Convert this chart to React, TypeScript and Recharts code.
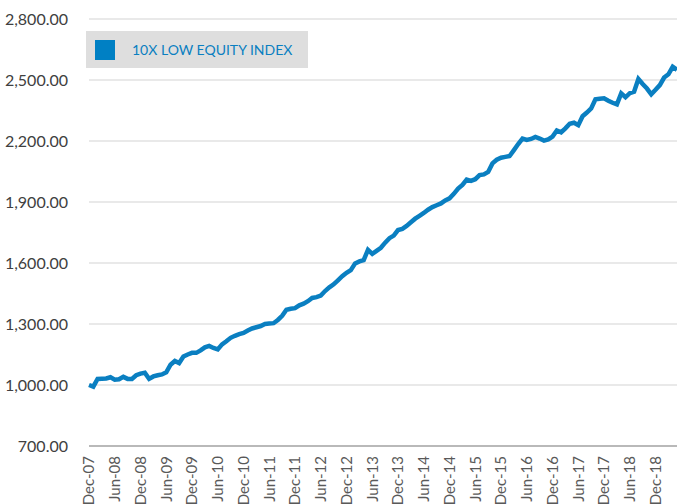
import { LineChart, Line, XAxis, YAxis, CartesianGrid, Legend } from 'recharts'

// month labels Dec-07 .. May-19
const MONTHS = ['Jan', 'Feb', 'Mar', 'Apr', 'May', 'Jun', 'Jul', 'Aug', 'Sep', 'Oct', 'Nov', 'Dec']
const startYear = 2007
const startMonth = 11

const indexValues = [
  1000, 992, 1030, 1031, 1032, 1038, 1026, 1028, 1040, 1030,
  1030, 1048, 1056, 1060, 1030, 1042, 1048, 1052, 1062, 1100,
  1118, 1108, 1140, 1150, 1158, 1158, 1170, 1185, 1192, 1182,
  1175, 1200, 1215, 1232, 1242, 1250, 1256, 1268, 1278, 1284,
  1290, 1300, 1302, 1304, 1320, 1340, 1370, 1375, 1378, 1392,
  1400, 1412, 1428, 1432, 1440, 1462, 1480, 1495, 1515, 1535,
  1552, 1565, 1598, 1608, 1614, 1665, 1645, 1660, 1675, 1700,
  1722, 1735, 1762, 1768, 1782, 1800, 1818, 1832, 1846, 1862,
  1875, 1884, 1893, 1908, 1918, 1940, 1966, 1984, 2010, 2004,
  2012, 2032, 2036, 2048, 2090, 2108, 2118, 2122, 2126, 2155,
  2185, 2212, 2205, 2210, 2220, 2212, 2202, 2208, 2222, 2252,
  2243, 2262, 2285, 2290, 2278, 2322, 2340, 2360, 2405, 2408,
  2410, 2398, 2388, 2380, 2434, 2415, 2435, 2442, 2505, 2480,
  2458, 2430, 2452, 2475, 2512, 2528, 2565, 2550,
]

const yTicks = [700, 1000, 1300, 1600, 1900, 2200, 2500, 2800]

const data = indexValues.map((v, i) => {
  const m = (startMonth + i) % 12
  const y = startYear + Math.floor((startMonth + i) / 12)
  return { month: `${MONTHS[m]}-${String(y).slice(2)}`, value: v }
})

const FONT = 'Lato, "Open Sans", sans-serif'

function MonthTick({ x, y, payload }: any) {
  return (
    <g transform={`translate(${x},${y})`}>
      <text
        transform="rotate(-90)"
        x={-10}
        y={0}
        dy="0.36em"
        textAnchor="end"
        fill="#595959"
        fontSize={15}
        fontFamily={FONT}
      >
        {payload.value}
      </text>
    </g>
  )
}

function LegendBox() {
  return (
    <div
      style={{
        width: 222,
        height: 37,
        background: '#dedede',
        display: 'flex',
        alignItems: 'center',
        fontFamily: FONT,
      }}
    >
      <div style={{ width: 20, height: 20, background: '#0080c4', marginLeft: 9 }} />
      <span style={{ marginLeft: 17, color: '#0a7fc1', fontSize: 14 }}>10X LOW EQUITY INDEX</span>
    </div>
  )
}

export default function App() {
  return (
    <div style={{ position: 'absolute', left: 0, top: 0, background: '#fff' }}>
      <LineChart width={677} height={504} data={data} margin={{ top: 19, right: 0, bottom: 0, left: 0 }}>
        <CartesianGrid vertical={false} stroke="#d4d4d4" strokeWidth={1.2} />
        <XAxis
          dataKey="month"
          interval={5}
          tickLine={false}
          tickSize={0}
          tickMargin={0}
          height={58}
          stroke="#8a8a8a"
          strokeWidth={1.2}
          tick={<MonthTick />}
        />
        <YAxis
          domain={[700, 2800]}
          ticks={yTicks}
          width={89}
          axisLine={false}
          tickLine={false}
          tickSize={0}
          tickMargin={21}
          tick={{ fill: '#404040', fontSize: 16, fontFamily: FONT }}
          tickFormatter={(v: number) => v.toLocaleString('en-US', { minimumFractionDigits: 2, maximumFractionDigits: 2 })}
        />
        <Legend
          layout="horizontal"
          verticalAlign="middle"
          align="center"
          wrapperStyle={{ left: 86, top: 31, width: 222, height: 37 }}
          content={() => <LegendBox />}
        />
        <Line
          type="linear"
          dataKey="value"
          stroke="#0a7fc1"
          strokeWidth={4.5}
          dot={false}
          isAnimationActive={false}
        />
      </LineChart>
    </div>
  )
}
